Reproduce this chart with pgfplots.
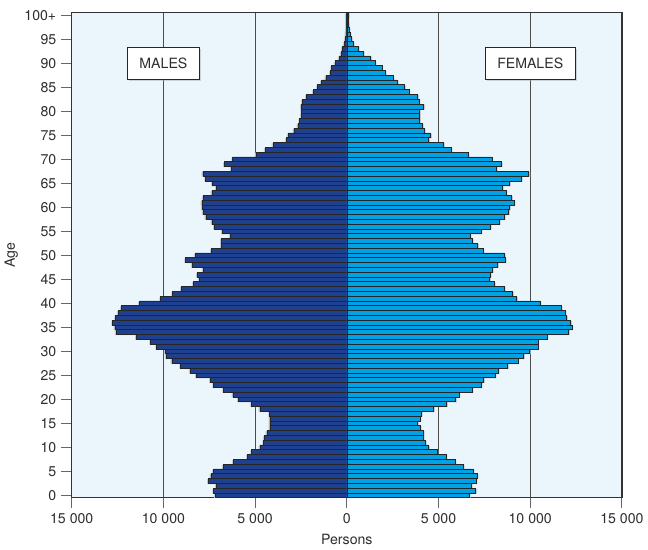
\documentclass[border=0pt]{standalone}
\usepackage{fontspec}
\setmainfont{TeX Gyre Heros}
\usepackage{pgfplots}
\pgfplotsset{compat=1.18}
\usepackage{pgfplotstable}
\usetikzlibrary{shadows}

\definecolor{malebar}{RGB}{30,64,142}
\definecolor{femalebar}{RGB}{0,162,228}
\definecolor{bgblue}{RGB}{234,245,252}
\definecolor{txt}{RGB}{45,45,45}

% age, males, females (persons)
\pgfplotstableread{
age m f
0 7168 6679
1 7260 7029
2 7131 6790
3 7554 7047
4 7407 7102
5 7278 6882
6 6745 6348
7 6194 5906
8 5422 5410
9 5183 4913
10 4742 4453
11 4540 4287
12 4503 4177
13 4356 4177
14 4191 4011
15 4191 3864
16 4191 3993
17 4209 4066
18 4742 4729
19 5183 5446
20 5918 5925
21 6212 6109
22 6709 6826
23 7260 7323
24 7444 7452
25 8197 8078
26 8547 8262
27 9061 8777
28 9539 9329
29 9852 9642
30 9907 9954
31 10366 10414
32 10697 10414
33 11469 10911
34 12572 12089
35 12645 12273
36 12774 12199
37 12609 11978
38 12462 11905
39 12296 11702
40 11304 10543
41 10146 9255
42 9502 9034
43 9025 8593
44 8381 8041
45 8050 7783
46 8161 7820
47 7830 7930
48 8436 8225
49 8786 8648
50 8271 8593
51 7389 7434
52 6837 7139
53 6837 6845
54 6359 6716
55 6782 7323
56 7223 7820
57 7352 8317
58 7683 8593
59 7830 8814
60 7885 8869
61 7903 9126
62 7830 8979
63 7352 8685
64 7131 8482
65 7334 8869
66 7701 9513
67 7848 9918
68 6304 8151
69 6672 8427
70 6231 7912
71 4963 6606
72 4448 5686
73 4025 5281
74 3308 4453
75 3198 4563
76 2886 4232
77 2665 4122
78 2573 3974
79 2481 3974
80 2463 3974
81 2481 4195
82 2426 3938
83 2206 3864
84 1838 3386
85 1599 3146
86 1379 2760
87 1140 2521
88 901 2098
89 827 1914
90 643 1546
91 423 1306
92 312 902
93 239 626
94 147 350
95 92 258
96 55 184
97 37 129
98 18 92
99 18 74
100 37 92
}\pop

\begin{document}
\begin{tikzpicture}
\begin{axis}[
    scale only axis,
    width=409pt, height=360.5pt,
    xmin=-15000, xmax=15000,
    ymin=-0.5, ymax=100.5,
    scaled x ticks=false,
    axis background/.style={fill=bgblue},
    xtick={-15000,-10000,-5000,0,5000,10000,15000},
    xticklabels={15 000,10 000,5 000,0,5 000,10 000,15 000},
    ytick={0,5,...,100},
    yticklabels={0,5,10,15,20,25,30,35,40,45,50,55,60,65,70,75,80,85,90,95,100+},
    xtick pos=bottom, ytick pos=left,
    tick align=outside,
    major tick length=8pt,
    tick style={black!60, line width=0.8pt},
    xmajorgrids,
    grid style={black!70, line width=0.6pt},
    axis line style={black!80, line width=0.9pt},
    ticklabel style={font=\fontsize{10.5}{12}\selectfont, text=txt},
    xlabel={Persons}, ylabel={Age},
    label style={font=\fontsize{10.5}{12}\selectfont, text=txt},
    xlabel style={yshift=-1pt},
    ylabel style={yshift=-2pt},
]
% drop shadows of the bars
\addplot[xbar, bar width=1, bar shift=-0.15, fill=black!22, draw=none]
    table[x expr=-\thisrow{m}-70, y=age] {\pop};
\addplot[xbar, bar width=1, bar shift=-0.15, fill=black!22, draw=none]
    table[x expr=\thisrow{f}+70, y=age] {\pop};
% males
\addplot[xbar, bar width=1, bar shift=0pt, fill=malebar, draw=black!85, line width=0.45pt]
    table[x expr=-\thisrow{m}, y=age] {\pop};
% females
\addplot[xbar, bar width=1, bar shift=0pt, fill=femalebar, draw=black!85, line width=0.45pt]
    table[x expr=\thisrow{f}, y=age] {\pop};

\node[draw=black!85, fill=white, line width=0.7pt, inner xsep=9pt, minimum height=23.5pt,
      drop shadow={shadow xshift=1.2pt, shadow yshift=-1.2pt, fill=black!30},
      font=\fontsize{10.5}{12}\selectfont, text=txt] at (axis cs:-10000,90) {MALES};
\node[draw=black!85, fill=white, line width=0.7pt, inner xsep=9pt, minimum height=23.5pt,
      drop shadow={shadow xshift=1.2pt, shadow yshift=-1.2pt, fill=black!30},
      font=\fontsize{10.5}{12}\selectfont, text=txt] at (axis cs:10000,90) {FEMALES};
\end{axis}
\path ([yshift=9.5pt]current axis.north);
\end{tikzpicture}
\end{document}
